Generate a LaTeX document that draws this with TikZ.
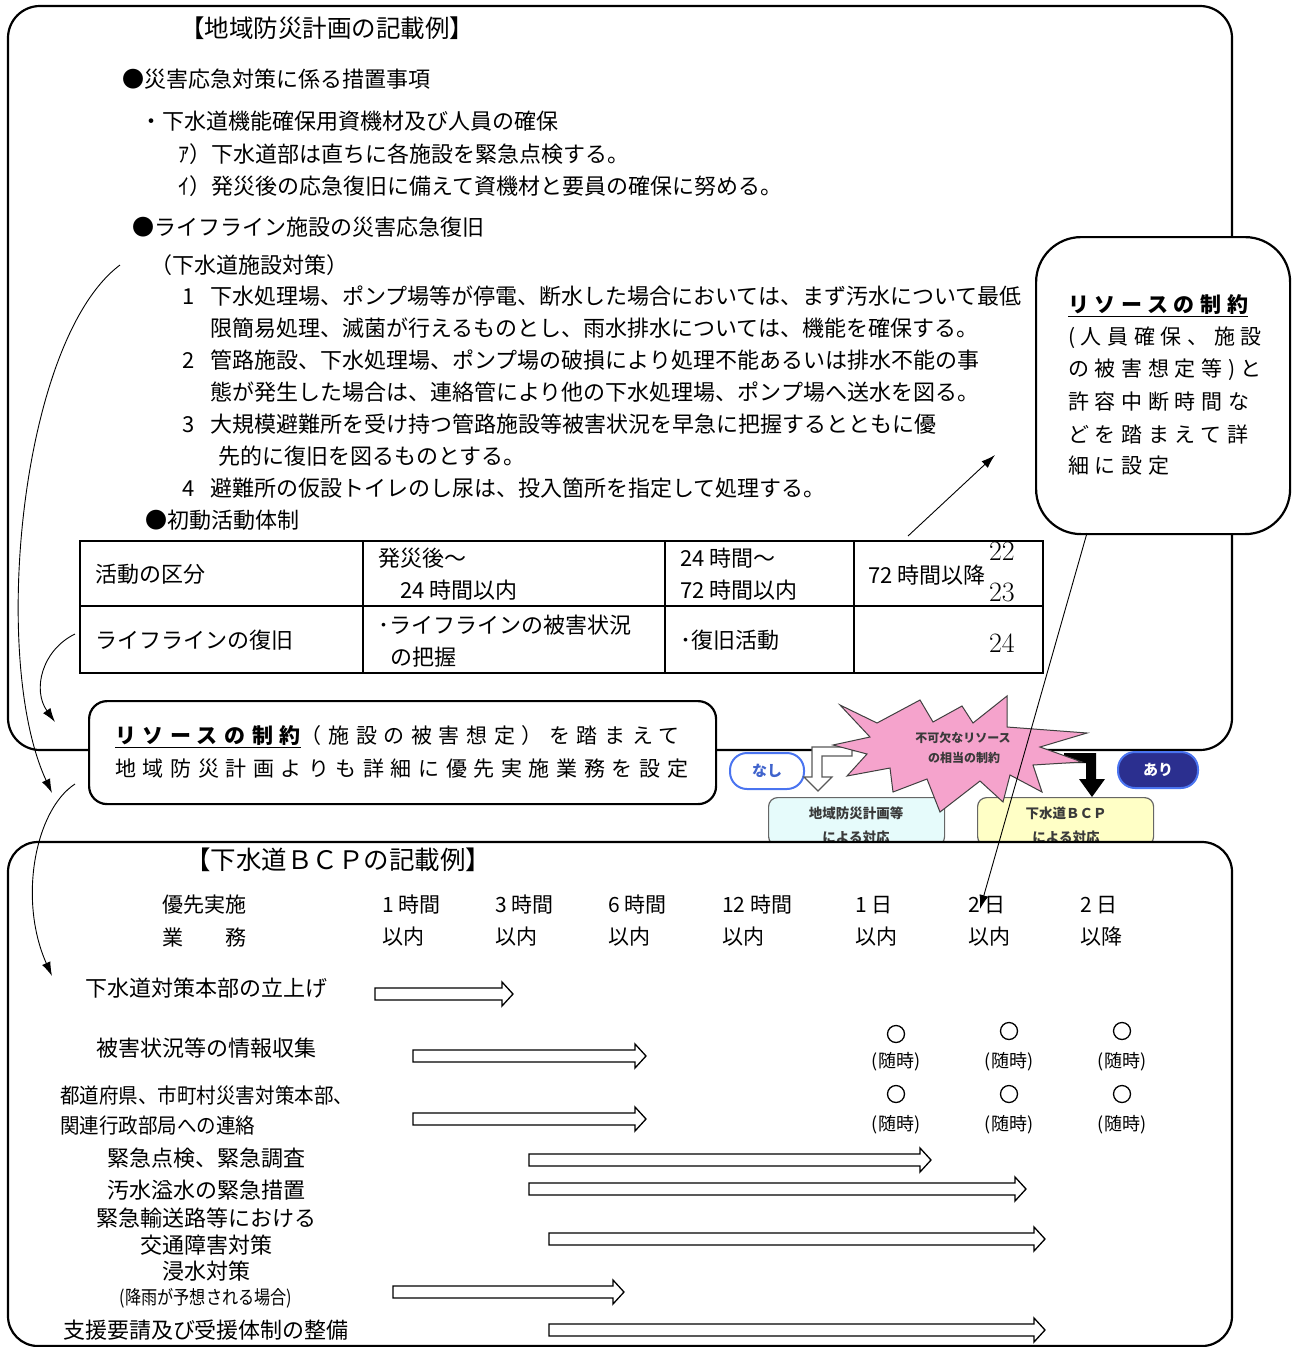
\documentclass[tikz,border=0pt]{standalone}
\usepackage{fontspec}
\newfontfamily\jp{Noto Sans CJK JP}
\newfontfamily\jpw{Noto Sans CJK JP}[LetterSpace=27]
\newfontfamily\jpm{Noto Sans CJK JP}[LetterSpace=31.5]
\usetikzlibrary{arrows.meta}
\definecolor{starpink}{HTML}{F5A3CC}
\definecolor{nashiblue}{HTML}{4A74F0}
\definecolor{arinavy}{HTML}{2B2F8F}
\definecolor{boxcyan}{HTML}{E6FBFB}
\definecolor{boxyellow}{HTML}{FFFFC6}
\definecolor{smallgray}{HTML}{3A3A3A}
\newcommand\myul[1]{\setbox0\hbox{#1}\rlap{\rule[-5pt]{\wd0}{1.8pt}}\box0}
\newcommand\harr[4]{\draw[harrow] (#1,{#3-6}) -- ({#2-11},{#3-6}) -- ({#2-11},{#3-12}) -- (#2,#3) -- ({#2-11},{#3+12}) -- ({#2-11},{#3+6}) -- (#1,{#3+6}) -- cycle; \coordinate (#4) at (#2,#3);}
\begin{document}
\begin{tikzpicture}[x=1pt,y=-1pt,
  every node/.style={inner sep=0pt},
  tx/.style={anchor=west,font=\jp\fontsize{22}{26}\selectfont},
  tb/.style={anchor=west,font=\jp\fontsize{21}{25}\selectfont},
  tc/.style={anchor=center,font=\jp\fontsize{22}{25}\selectfont},
  zui/.style={anchor=center,font=\jp\fontsize{18}{20}\selectfont},
  mk/.style={circle,draw,line width=1.3pt,minimum size=17pt},
  lm/.style={anchor=east,font=\fontsize{28}{30}\selectfont},
  box/.style={draw,line width=2.2pt,fill=white},
  conn/.style={line width=0.9pt,-{Latex[length=14pt,width=9pt]}},
  harrow/.style={draw,line width=1.3pt,fill=white},
  sbox/.style={draw=gray!80!black,line width=1.2pt,rounded corners=9pt,minimum width=176pt,minimum height=48pt,anchor=north west},
  stxt/.style={anchor=center,font=\jp\bfseries\fontsize{13.5}{15}\selectfont,text=smallgray},
]
\useasboundingbox (0,0) rectangle (1295,1347);

% ===== top box =====
\draw[box,rounded corners=32pt] (8,6) rectangle (1232,750);
\node[anchor=west,font=\jp\fontsize{24.5}{28}\selectfont] (t0) at (180,28) {【地域防災計画の記載例】};
\node[tx] (t1) at (122,79) {●災害応急対策に係る措置事項};
\node[tx] (t2) at (140,121) {・下水道機能確保用資機材及び人員の確保};
\node[tx] (t3) at (178,154) {ｱ）下水道部は直ちに各施設を緊急点検する。};
\node[tx] (t4) at (178,186) {ｲ）発災後の応急復旧に備えて資機材と要員の確保に努める。};
\node[tx] (t5) at (132,227) {●ライフライン施設の災害応急復旧};
\node[tx] (sub) at (150,265) {（下水道施設対策）};
\node[tx] (n1) at (182,296) {\makebox[28pt][l]{1}下水処理場、ポンプ場等が停電、断水した場合においては、まず汚水について最低};
\node[tx] (n1b) at (210,328) {限簡易処理、滅菌が行えるものとし、雨水排水については、機能を確保する。};
\node[tx] (n2) at (182,360) {\makebox[28pt][l]{2}管路施設、下水処理場、ポンプ場の破損により処理不能あるいは排水不能の事};
\node[tx] (n2b) at (210,392) {態が発生した場合は、連絡管により他の下水処理場、ポンプ場へ送水を図る。};
\node[tx] (n3) at (182,424) {\makebox[28pt][l]{3}大規模避難所を受け持つ管路施設等被害状況を早急に把握するとともに優};
\node[tx] (n3b) at (218,456) {先的に復旧を図るものとする。};
\node[tx] (n4) at (182,488) {\makebox[28pt][l]{4}避難所の仮設トイレのし尿は、投入箇所を指定して処理する。};
\node[tx] (t6) at (145,520) {●初動活動体制};

% ===== table =====
\draw[line width=2pt] (80,541) rectangle (1043,673);
\draw[line width=2pt] (80,606) -- (1043,606);
\draw[line width=2pt] (363,541) -- (363,673) (665,541) -- (665,673) (854,541) -- (854,673);
\node[tx] (c11) at (95,574) {活動の区分};
\node[tx] (c12a) at (378,558) {発災後～};
\node[tx] (c12b) at (400,590) {24 時間以内};
\node[tx] (c13a) at (680,558) {24 時間～};
\node[tx] (c13b) at (680,590) {72 時間以内};
\node[tx] (c14) at (868,575) {72 時間以降};
\node[lm] (p22) at (1015,551) {22};
\node[lm] (p23) at (1015,592) {23};
\node[lm] (p24) at (1015,643) {24};
\node[tx] (c21) at (95,640) {ライフラインの復旧};
\node[tx] (c22a) at (378,625) {･ライフラインの被害状況};
\node[tx] (c22b) at (390,657) {の把握};
\node[tx] (c23) at (680,640) {･復旧活動};

% ===== right callout =====
\node[box,rounded corners=45pt,minimum width=254pt,minimum height=297pt,anchor=north west] (rc) at (1035,236) {};
\node[anchor=west,font=\jpw\fontsize{21}{25}\selectfont] (r1) at (1068,306) {\myul{\bfseries リソースの制約}};
\node[anchor=west,font=\jpw\fontsize{21}{25}\selectfont] (r2) at (1068,338) {(人員確保、施設};
\node[anchor=west,font=\jpw\fontsize{21}{25}\selectfont] (r3) at (1068,370) {の被害想定等)と};
\node[anchor=west,font=\jpw\fontsize{21}{25}\selectfont] (r4) at (1068,402) {許容中断時間な};
\node[anchor=west,font=\jpw\fontsize{21}{25}\selectfont] (r5) at (1068,434) {どを踏まえて詳};
\node[anchor=west,font=\jpw\fontsize{21}{25}\selectfont] (r6) at (1068,466) {細に設定};

% ===== middle callout =====
\node[box,rounded corners=18pt,minimum width=627pt,minimum height=103pt,anchor=north west] (mc) at (88,700) {};
\node[anchor=west,font=\jpm\fontsize{21}{25}\selectfont] (m1) at (115,737) {\myul{\bfseries リソースの制約}（施設の被害想定）を踏まえて};
\node[anchor=west,font=\jpm\fontsize{21}{25}\selectfont] (m2) at (115,769) {地域防災計画よりも詳細に優先実施業務を設定};

% ===== decision area =====
\node[draw=nashiblue,line width=2pt,fill=white,rounded corners=17pt,minimum width=74pt,minimum height=36pt,font=\jp\bfseries\fontsize{15}{17}\selectfont,text=nashiblue!85!black] (nashi) at (767,771) {なし};
\node[draw=nashiblue,line width=2pt,fill=arinavy,rounded corners=17pt,minimum width=80pt,minimum height=36pt,font=\jp\bfseries\fontsize{15}{17}\selectfont,text=white] (ari) at (1158,770) {あり};
\node[sbox,fill=boxcyan] (bx1) at (768,797) {};
\node[stxt] (bx1a) at (856,813) {地域防災計画等};
\node[stxt] (bx1b) at (856,837) {による対応};
\node[sbox,fill=boxyellow] (bx2) at (977,797) {};
\node[stxt] (bx2a) at (1066,813) {下水道ＢＣＰ};
\node[stxt] (bx2b) at (1066,837) {による対応};
% hollow bent arrow
\draw[draw=gray!70!black,line width=1.2pt,fill=white] (852,747) -- (812,747) -- (812,777) -- (804,777) -- (818,791) -- (832,777) -- (822,777) -- (822,756) -- (852,756) -- cycle;
% black bent arrow
\fill[black] (1064,753) -- (1096,753) -- (1096,779) -- (1105,779) -- (1092,797) -- (1079,779) -- (1086,779) -- (1086,763) -- (1064,763) -- cycle;
% star
\draw[fill=starpink,draw=black!75,line width=1pt]
 (840,705) -- (877,723) -- (920,700) -- (933,722) -- (962,706) -- (973,723) -- (1007,696) -- (1007,727)
 -- (1087,733) -- (1040,747) -- (1082,762) -- (1033,765) -- (1042,792) -- (1010,775) -- (1003,802)
 -- (980,781) -- (940,812) -- (927,779) -- (893,792) -- (890,768) -- (847,776) -- (867,754)
 -- (833,745) -- (870,737) -- cycle;
\node[stxt,font=\jp\bfseries\fontsize{12}{14}\selectfont] (st1) at (963,738) {不可欠なリソース};
\node[stxt,font=\jp\bfseries\fontsize{12}{14}\selectfont] (st2) at (964,758) {の相当の制約};

% ===== bottom box =====
\draw[box,rounded corners=30pt] (8,842) rectangle (1232,1346);
\node[anchor=west,font=\jp\fontsize{25.5}{28}\selectfont] (b0) at (185,860) {【下水道ＢＣＰの記載例】};
\node[tb] (h0a) at (162,905) {優先実施};
\node[tb] (h0b) at (162,937) {業　　務};
\node[tb] (h1a) at (382,905) {1 時間};  \node[tb] (h1b) at (382,937) {以内};
\node[tb] (h2a) at (495,905) {3 時間};  \node[tb] (h2b) at (495,937) {以内};
\node[tb] (h3a) at (608,905) {6 時間};  \node[tb] (h3b) at (608,937) {以内};
\node[tb] (h4a) at (722,905) {12 時間}; \node[tb] (h4b) at (722,937) {以内};
\node[tb] (h5a) at (855,905) {1 日};    \node[tb] (h5b) at (855,937) {以内};
\node[tb] (h6a) at (968,905) {2 日};    \node[tb] (h6b) at (968,937) {以内};
\node[tb] (h7a) at (1080,905) {2 日};   \node[tb] (h7b) at (1080,937) {以降};

\node[tc] (k1) at (206,988) {下水道対策本部の立上げ};
\node[tc] (k2) at (206,1048) {被害状況等の情報収集};
\node[tb] (k3a) at (60,1095) {\scalebox{0.93}[1]{都道府県、市町村災害対策本部、}};
\node[tb] (k3b) at (60,1126) {\scalebox{0.93}[1]{関連行政部局への連絡}};
\node[tc] (k4) at (206,1158) {緊急点検、緊急調査};
\node[tc] (k5) at (206,1190) {汚水溢水の緊急措置};
\node[tc] (k6a) at (206,1218) {緊急輸送路等における};
\node[tc] (k6b) at (206,1245) {交通障害対策};
\node[tc] (k7a) at (206,1271) {浸水対策};
\node[anchor=center,font=\jp\fontsize{19}{21}\selectfont] (k7b) at (206,1298) {\scalebox{0.85}[1]{(降雨が予想される場合)}};
\node[tc] (k8) at (206,1330) {支援要請及び受援体制の整備};

\harr{375}{513}{994}{a1}
\harr{413}{646}{1056}{a2}
\harr{413}{646}{1119}{a3}
\harr{529}{931}{1160}{a4}
\harr{529}{1026}{1189}{a5}
\harr{549}{1045}{1239}{a6}
\harr{393}{624}{1292}{a7}
\harr{549}{1045}{1330}{a8}

\node[mk] (o1) at (896,1034) {}; \node[mk] (o2) at (1009,1031) {}; \node[mk] (o3) at (1122,1031) {};
\node[zui] (z1) at (896,1062) {(随時)}; \node[zui] (z2) at (1009,1062) {(随時)}; \node[zui] (z3) at (1122,1062) {(随時)};
\node[mk] (o4) at (896,1094) {}; \node[mk] (o5) at (1009,1094) {}; \node[mk] (o6) at (1122,1094) {};
\node[zui] (z4) at (896,1125) {(随時)}; \node[zui] (z5) at (1009,1125) {(随時)}; \node[zui] (z6) at (1122,1125) {(随時)};

% ===== connectors =====
\coordinate (ca0) at (120,265);
\coordinate (ca1) at (52,793);
\coordinate (cb0) at (75,634);
\coordinate (cb1) at (55,722);
\coordinate (cc0) at (75,784);
\coordinate (cc1) at (52,976);
\coordinate (tb0) at (908,536);
\coordinate (tb1) at (995,455);
\coordinate (rc0) at (1087,533);
\coordinate (rc1) at (980,909);
\draw[conn] (ca0) .. controls (20,340) and (-10,660) .. (ca1);
\draw[conn] (cb0) .. controls (42,650) and (32,690) .. (cb1);
\draw[conn] (cc0) .. controls (35,810) and (18,900) .. (cc1);
\draw[conn] (tb0) -- (tb1);
\draw[conn] (rc0) -- (rc1);
\end{tikzpicture}
\end{document}
